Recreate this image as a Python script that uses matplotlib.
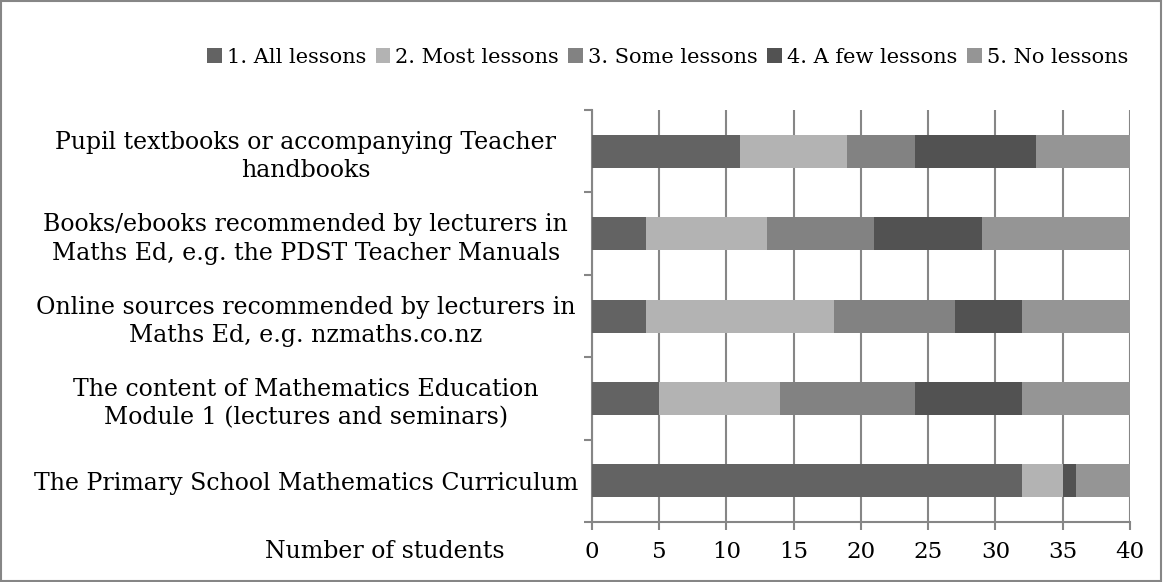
import matplotlib
matplotlib.use("Agg")
from matplotlib import pyplot as plt
from matplotlib.patches import Rectangle

plt.rcParams['font.family'] = ['DejaVu Serif']

categories = [
    "Pupil textbooks or accompanying Teacher\nhandbooks",
    "Books/ebooks recommended by lecturers in\nMaths Ed, e.g. the PDST Teacher Manuals",
    "Online sources recommended by lecturers in\nMaths Ed, e.g. nzmaths.co.nz",
    "The content of Mathematics Education\nModule 1 (lectures and seminars)",
    "The Primary School Mathematics Curriculum",
]
series_names = ["1. All lessons", "2. Most lessons", "3. Some lessons",
                "4. A few lessons", "5. No lessons"]
all_lessons = [11, 4, 4, 5, 32]
most_lessons = [8, 9, 14, 9, 3]
some_lessons = [5, 8, 9, 10, 0]
few_lessons = [9, 8, 5, 8, 1]
no_lessons = [7, 11, 8, 8, 4]
colors = ["#636363", "#b3b3b3", "#828282", "#525252", "#959595"]
x_ticks = [0, 5, 10, 15, 20, 25, 30, 35, 40]

fig = plt.figure(figsize=(11.63, 5.82), dpi=100)
ax = fig.add_axes([0.509, 0.103, 0.4625, 0.708])

grey = "#868686"
y = list(range(len(categories)))
left = [0] * len(categories)
for vals, name, c in zip([all_lessons, most_lessons, some_lessons, few_lessons, no_lessons],
                         series_names, colors):
    ax.barh(y, vals, left=left, height=0.4, color=c, label=name, zorder=3)
    left = [a + b for a, b in zip(left, vals)]

ax.set_xlim(0, 40)
ax.set_ylim(len(categories) - 0.5, -0.5)
ax.set_xticks(x_ticks)
ax.set_yticks(y)
ax.set_yticklabels(categories, fontsize=17, ha='center', linespacing=1.3)
ax.set_yticks([i - 0.5 for i in range(len(categories) + 1)], minor=True)
ax.tick_params(axis='y', which='major', length=0, pad=206)
ax.tick_params(axis='y', which='minor', length=6, color=grey, width=1.5)
ax.tick_params(axis='x', length=6, color=grey, width=1.5, labelsize=16.5, pad=8)
ax.grid(axis='x', color=grey, linewidth=1.5, zorder=0)
for s in ['top', 'right']:
    ax.spines[s].set_visible(False)
for s in ['left', 'bottom']:
    ax.spines[s].set_color(grey)
    ax.spines[s].set_linewidth(1.5)

fig.text(0.331, 0.052, "Number of students", fontsize=17, ha='center', va='center')

fig.legend(loc='center', bbox_to_anchor=(0.574, 0.902), ncol=5, frameon=False,
           fontsize=15, handlelength=0.7, handleheight=0.7, handletextpad=0.25,
           columnspacing=0.45)

fig.patches.append(Rectangle((0.001, 0.001), 0.997, 0.997, transform=fig.transFigure,
                             fill=False, edgecolor=grey, linewidth=1.5))

fig.savefig("out.png", dpi=100)
